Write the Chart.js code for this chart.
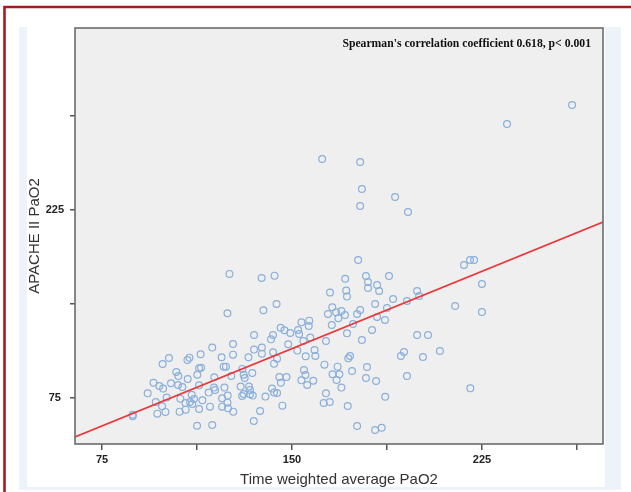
<!DOCTYPE html>
<html><head><meta charset="utf-8">
<script src="https://cdn.jsdelivr.net/npm/chart.js@4/dist/chart.umd.min.js"></script>
<style>html,body{margin:0;padding:0;background:#fff;}canvas{display:block;}</style>
</head><body>
<canvas id="c" width="631" height="492"></canvas>
<script>
// Time weighted average PaO2 (x) vs APACHE II PaO2 (y)
const xValues = [
125.3,138.0,143.1,124.5,138.7,143.9,135.0,141.7,142.5,145.5,147.0,149.3,152.4,153.7,156.8,156.6,152.8,154.5,157.2,165.0,
165.9,164.2,167.4,169.5,171.0,171.4,171.7,170.9,168.3,165.7,171.7,163.4,158.9,159.2,155.4,152.1,148.5,144.1,142.5,142.9,
138.1,138.1,135.0,132.8,126.7,126.7,118.5,113.9,122.2,123.0,123.9,119.3,113.3,114.1,112.6,108.8,105.1,104.3,102.2,105.0,
106.7,108.7,109.5,101.4,98.9,95.3,97.6,99.1,93.0,96.2,98.7,96.8,100.0,100.5,105.9,105.6,107.9,108.0,109.7,110.4,
110.6,111.3,113.3,114.6,113.3,117.1,117.6,119.2,119.6,122.4,123.3,122.4,124.6,124.5,124.7,126.8,126.0,130.4,130.9,131.3,
134.3,129.7,130.3,130.9,133.0,133.4,133.4,134.5,139.5,142.1,142.9,144.1,145.0,145.6,147.8,146.2,137.4,134.9,112.5,118.5,
87.1,87.1,162.8,166.0,168.0,168.7,167.6,169.5,163.4,162.5,164.9,172.0,172.2,154.7,155.3,153.7,156.0,158.4,
175.7,182.8,185.4,186.8,220.4,
260.6,234.9,161.9,176.9,177.6,176.9,190.7,195.8,176.1,179.2,180.0,180.0,183.6,184.4,188.3,199.4,200.2,189.9,195.4,182.8,
187.5,175.7,176.9,183.6,214.4,225.0,225.0,217.9,220.3,221.9,
199.4,203.7,208.4,201.7,193.0,194.2,195.4,172.9,181.6,186.7,177.6,173.7,179.6,179.2,183.2,174.1
];
const yValues = [
174.0,170.8,172.6,142.6,145.0,150.0,125.3,121.8,125.3,131.1,129.0,126.9,129.3,135.4,136.7,132.5,126.1,120.5,123.2,159.1,
147.4,142.0,143.4,144.4,170.2,160.7,155.9,141.2,138.6,133.3,126.6,120.5,113.3,108.5,108.3,112.8,117.8,106.4,111.5,102.4,
115.2,110.4,113.6,107.5,118.1,109.6,115.2,109.9,107.5,100.0,100.0,91.5,98.7,99.2,93.6,90.2,92.6,95.8,86.7,85.4,
83.8,105.3,107.2,106.9,102.1,87.2,84.6,82.5,78.7,71.8,68.4,62.5,63.9,75.3,74.5,64.1,71.0,65.7,71.8,77.6,
70.2,74.2,66.2,73.2,85.1,79.3,68.1,83.3,81.4,74.8,83.3,68.1,76.9,71.3,66.8,64.1,92.6,98.2,93.6,91.0,
95.0,84.1,76.6,78.2,84.1,81.4,78.0,76.9,76.1,82.5,79.3,79.0,91.8,87.2,91.8,68.9,64.6,56.7,52.9,53.5,
61.7,60.5,101.6,93.9,100.0,93.9,89.4,83.3,78.7,71.0,71.8,68.6,106.7,97.3,93.4,89.1,85.4,88.8,
52.7,49.5,51.3,76.0,82.7,
308.8,293.6,265.7,263.3,241.8,228.2,235.4,223.4,185.1,172.3,167.6,162.8,165.2,160.4,172.3,160.4,156.4,154.0,152.4,150.0,
146.8,142.0,145.2,139.6,148.4,166.0,143.6,181.1,185.1,185.1,
125.3,125.3,112.5,107.7,108.5,111.7,92.6,108.5,129.3,137.2,121.3,96.5,99.7,91.0,88.6,134.0
];
// fitted regression line end points
const fitX = [64.3, 272.8];
const fitY = [43.9, 215.4];
// axis ranges and ticks
const xRange = [64.3, 272.8];
const yRange = [38.3, 370.2];
const xStep = 37.5;
const yStep = 75;
const xTickLabels = [75, 150, 225];
const yTickLabels = [75, 225];
const xTitle = 'Time weighted average PaO2';
const yTitle = 'APACHE II PaO2';
const noteText = "Spearman's correlation coefficient 0.618, p< 0.001";

const framePlugin = {
  id: 'frame',
  beforeDraw(chart) {
    const ctx = chart.ctx;
    const a = chart.chartArea;
    ctx.save();
    ctx.fillStyle = '#ffffff';
    ctx.fillRect(0, 0, chart.width, chart.height);
    ctx.fillStyle = '#edf3f9';
    ctx.fillRect(19, 27, 602, 463);
    ctx.fillStyle = '#ffffff';
    ctx.fillRect(27, 27, 578, 460);
    ctx.strokeStyle = '#a11d24';
    ctx.lineWidth = 2.6;
    ctx.beginPath();
    ctx.moveTo(3.3, 7); ctx.lineTo(631, 7);
    ctx.moveTo(4.5, 6); ctx.lineTo(4.5, 492);
    ctx.stroke();
    ctx.fillStyle = '#efefef';
    ctx.fillRect(a.left, a.top, a.right - a.left, a.bottom - a.top);
    ctx.restore();
  },
  afterDatasetsDraw(chart) {
    const ctx = chart.ctx;
    const a = chart.chartArea;
    ctx.save();
    ctx.strokeStyle = '#6b6b6b';
    ctx.lineWidth = 1.6;
    ctx.strokeRect(a.left, a.top, a.right - a.left, a.bottom - a.top);
    ctx.font = 'bold 11.7px "Liberation Serif", "Times New Roman", serif';
    ctx.fillStyle = '#111';
    ctx.textAlign = 'right';
    ctx.textBaseline = 'middle';
    ctx.fillText(noteText, a.right - 12, a.top + 16);
    ctx.restore();
  }
};

const tickFont = {family: '"Liberation Sans", Arial, sans-serif', size: 11, weight: 'bold'};
const titleFont = {family: '"Liberation Sans", Arial, sans-serif', size: 15, weight: 'normal'};

new Chart(document.getElementById('c'), {
  type: 'scatter',
  data: {
    datasets: [
      {
        type: 'line',
        data: fitX.map((x, i) => ({x, y: fitY[i]})),
        borderColor: '#e8393d',
        borderWidth: 1.6,
        pointRadius: 0,
        fill: false,
        order: 0
      },
      {
        data: xValues.map((x, i) => ({x, y: yValues[i]})),
        pointRadius: 3.4,
        pointBorderWidth: 1.2,
        borderColor: '#89afda',
        backgroundColor: 'rgba(0,0,0,0)',
        showLine: false,
        order: 1
      }
    ]
  },
  options: {
    responsive: false,
    animation: false,
    devicePixelRatio: 1,
    layout: {padding: {top: 28, right: 28, left: 0, bottom: 0}},
    plugins: {legend: {display: false}, tooltip: {enabled: false}},
    scales: {
      x: {
        type: 'linear',
        min: xRange[0], max: xRange[1],
        afterFit: s => { s.height = 48; },
        ticks: {
          stepSize: xStep, includeBounds: false, autoSkip: false, maxRotation: 0,
          callback: v => xTickLabels.includes(v) ? String(v) : '',
          font: tickFont, color: '#222', padding: 3
        },
        grid: {display: true, drawOnChartArea: false, drawTicks: true, tickLength: 6, color: '#555', lineWidth: 1.5},
        border: {display: false},
        title: {display: true, text: xTitle, font: titleFont, color: '#333', padding: {top: 0, bottom: 3}}
      },
      y: {
        type: 'linear',
        min: yRange[0], max: yRange[1],
        afterFit: s => { s.width = 75; },
        ticks: {
          stepSize: yStep, includeBounds: false, autoSkip: false,
          callback: v => yTickLabels.includes(v) ? String(v) : '',
          font: tickFont, color: '#222', padding: 6, crossAlign: 'center'
        },
        grid: {display: true, drawOnChartArea: false, drawTicks: true, tickLength: 5, color: '#555', lineWidth: 1.5},
        border: {display: false},
        title: {display: true, text: yTitle, font: titleFont, color: '#333', padding: {top: 26, bottom: 0}}
      }
    }
  },
  plugins: [framePlugin]
});
</script>
</body></html>
